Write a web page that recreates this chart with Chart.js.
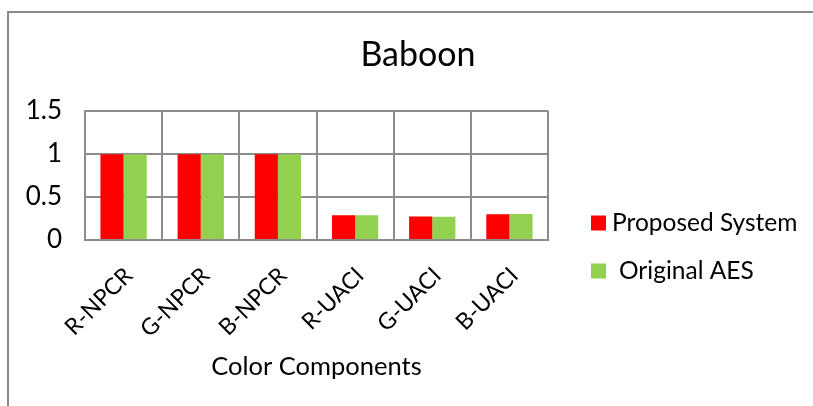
<!DOCTYPE html>
<html>
<head>
<meta charset="utf-8">
<script src="https://cdn.jsdelivr.net/npm/chart.js@4/dist/chart.umd.min.js"></script>
<style>
  html, body { margin: 0; padding: 0; background: #fff; width: 813px; height: 406px; overflow: hidden; }
  #wrap { position: absolute; left: 0; top: 0; width: 836px; height: 406px; }
</style>
</head>
<body>
<div id="wrap"><canvas id="chart" width="836" height="406"></canvas></div>
<script>
// Baboon: NPCR / UACI per colour channel
const categories = ['R-NPCR', 'G-NPCR', 'B-NPCR', 'R-UACI', 'G-UACI', 'B-UACI'];
const proposedSystem = [0.996, 0.996, 0.996, 0.286, 0.274, 0.298];
const originalAES = [0.996, 0.996, 0.996, 0.286, 0.270, 0.301];
const yTickValues = [0, 0.5, 1, 1.5];
const seriesNames = ['Proposed System', 'Original AES'];

const FONT = 'Lato, "Noto Sans", sans-serif';
const GRID = '#8c8c8c';

// Frame around the chart (left and top edges visible)
const framePlugin = {
  id: 'frame',
  beforeDraw(chart) {
    const ctx = chart.ctx;
    ctx.save();
    ctx.strokeStyle = '#8a8a8a';
    ctx.lineWidth = 2;
    ctx.beginPath();
    ctx.moveTo(8, chart.height);
    ctx.lineTo(8, 12);
    ctx.lineTo(chart.width, 12);
    ctx.stroke();
    ctx.restore();
  }
};

// Key at the right side, built from the datasets
const sideKeyPlugin = {
  id: 'sideKey',
  afterDraw(chart) {
    const ctx = chart.ctx;
    ctx.save();
    ctx.font = '24.5px ' + FONT;
    ctx.textBaseline = 'middle';
    ctx.textAlign = 'left';
    chart.data.datasets.forEach((ds, i) => {
      const cy = 223 + i * 48;
      ctx.fillStyle = ds.backgroundColor;
      ctx.fillRect(591, cy - 7.5, 15, 15);
      ctx.fillStyle = '#000';
      ctx.fillText(ds.label, i === 0 ? 612 : 619, cy);
    });
    ctx.restore();
  }
};

new Chart(document.getElementById('chart'), {
  type: 'bar',
  data: {
    labels: categories,
    datasets: [
      { label: seriesNames[0], data: proposedSystem, backgroundColor: '#ff0000', borderWidth: 0 },
      { label: seriesNames[1], data: originalAES, backgroundColor: '#92d050', borderWidth: 0 }
    ]
  },
  options: {
    responsive: false,
    animation: false,
    devicePixelRatio: 1,
    layout: { padding: 0 },
    datasets: { bar: { categoryPercentage: 0.6, barPercentage: 1.0 } },
    plugins: {
      legend: { display: false },
      tooltip: { enabled: false },
      title: {
        display: true,
        text: 'Baboon',
        color: '#000',
        font: { family: FONT, size: 34, weight: 'normal' },
        padding: { top: 35, bottom: 35 }
      }
    },
    scales: {
      x: {
        grid: { color: GRID, lineWidth: 2, offset: true, drawTicks: false },
        border: { display: true, color: GRID, width: 2 },
        ticks: {
          color: '#000',
          font: { family: FONT, size: 23 },
          minRotation: 45,
          maxRotation: 45,
          labelOffset: 5,
          padding: 22
        },
        title: {
          display: true,
          text: 'Color Components',
          color: '#000',
          font: { family: FONT, size: 25.5 },
          padding: { top: 0, bottom: 24 }
        },
        afterFit(scale) { scale.height = 406 - 240; }
      },
      y: {
        min: 0,
        max: 1.5,
        grid: { color: GRID, lineWidth: 2, drawTicks: false },
        border: { display: true, color: GRID, width: 2 },
        ticks: {
          color: '#000',
          font: { family: FONT, size: 26 },
          padding: 23,
          callback: (v) => String(v)
        },
        afterBuildTicks(scale) { scale.ticks = yTickValues.map(v => ({ value: v })); },
        afterFit(scale) { scale.width = 85; }
      },
      // empty right-hand strip that leaves room for the key
      keySpace: {
        type: 'linear',
        position: 'right',
        display: true,
        grid: { display: false },
        border: { display: false },
        ticks: { display: false },
        afterFit(scale) { scale.width = 836 - 548; }
      }
    }
  },
  plugins: [framePlugin, sideKeyPlugin]
});
</script>
</body>
</html>
